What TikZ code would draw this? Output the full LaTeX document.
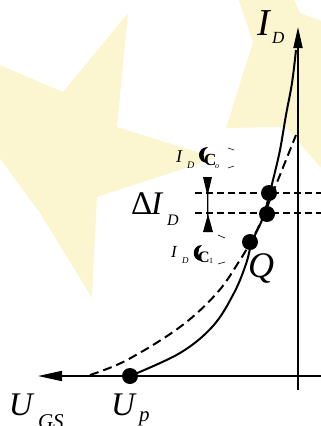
\documentclass[tikz,border=0pt]{standalone}
\usepackage{fontspec}
\setmainfont{Liberation Serif}
\usetikzlibrary{arrows.meta}
\definecolor{staryellow}{RGB}{252,246,208}
\begin{document}
\begin{tikzpicture}[x=1pt,y=-1pt,
  lbl/.style={inner sep=0pt,outer sep=0pt,anchor=base west},
  dotnode/.style={circle,fill=black,inner sep=0pt,minimum size=16pt},
  axis/.style={line width=1.8pt},
  guide/.style={line width=1.4pt,dash pattern=on 7pt off 4pt},
  solidcurve/.style={line width=2pt},
  dashcurve/.style={line width=2pt,dash pattern=on 9pt off 5pt},
  tickmark/.style={line width=0.6pt}]
\useasboundingbox (0,0) rectangle (321,426);
\clip (0,0) rectangle (321,426);
% background stars
\fill[staryellow] (128,13) -- (117,127) -- (216,158) -- (97,197) -- (92,298) -- (40,213) -- (-5,152) -- (-5,63) -- (63,92) -- cycle;
\fill[staryellow] (232,-20) -- (253,42) -- (226,128) -- (285,127) -- (325,172) -- (340,110) -- (345,30) -- (300,13) -- (285,-20) -- cycle;
% axes
\coordinate (hstart) at (321,376);
\coordinate (htip) at (38,376);
\coordinate (vstart) at (298,390);
\coordinate (vtip) at (298,27);
\draw[axis,-{Triangle[length=24pt,width=10pt]}] (hstart) -- (htip);
\draw[axis,-{Triangle[length=21pt,width=9pt]}] (vstart) -- (vtip);
% dashed guide lines
\coordinate (g1a) at (195,193); \coordinate (g1b) at (321,193);
\coordinate (g2a) at (195,213); \coordinate (g2b) at (321,213);
\draw[guide] (g1a) -- (g1b);
\draw[guide] (g2a) -- (g2b);
% curves
\draw[dashcurve] plot[smooth,tension=0.6] coordinates {(90,375) (127,360) (180,327) (217,293) (240,260) (250,243) (258,228) (266,210) (273,192) (280,175) (290,150) (296,135)};
\draw[solidcurve] plot[smooth,tension=0.6] coordinates {(130,376) (180,353) (213,326) (234,293) (246,264) (252,242) (262,220) (268,200) (273,180) (280,150) (286,115) (292,83) (296,50)};
% dots
\node[dotnode] (up) at (130,376) {};
\node[dotnode] (q) at (250,242) {};
\node[dotnode] (d2) at (267,214) {};
\node[dotnode] (d1) at (269,193) {};
% labels
\node[lbl] (idI) at (257,35) {\fontsize{38}{38}\selectfont\itshape I};
\node[lbl] (idD) at (272,43) {\fontsize{17}{17}\selectfont\itshape D};
\node[lbl] (ugsU) at (9,415) {\fontsize{33}{33}\selectfont\itshape U};
\node[lbl] (ugsGS) at (38,428) {\fontsize{21}{21}\selectfont\itshape GS};
\node[lbl] (upU) at (111,415) {\fontsize{33}{33}\selectfont\itshape U};
\node[lbl] (upp) at (139,421) {\fontsize{21}{21}\selectfont\itshape p};
\node[lbl] (qlbl) at (248,277) {\fontsize{36}{36}\selectfont\itshape Q};
\node[lbl] (dI) at (131,214) {\fontsize{33}{33}\selectfont Δ\kern-1pt\itshape I};
\node[lbl] (dD) at (167,225) {\fontsize{16}{16}\selectfont\itshape D};
% I_D(t_o) label
\node[lbl] (i0I) at (176,162) {\fontsize{18}{18}\selectfont\itshape I};
\node[lbl] (i0D) at (187,168) {\fontsize{10}{10}\selectfont\itshape D};
\fill (208,147) .. controls (196,147) and (196,163) .. (208,163) .. controls (202,160) and (202,150) .. (208,147) -- cycle;
\node[lbl] (i0C) at (204,165) {\fontsize{17}{17}\selectfont\bfseries C};
\node[lbl] (i0o) at (215,168) {\fontsize{8}{8}\selectfont\itshape o};
\draw[tickmark] (228,148) -- (234,150);
\draw[tickmark] (228,168) -- (234,166);
% I_D(t_1) label
\node[lbl] (i1I) at (171,257) {\fontsize{17}{17}\selectfont\itshape I};
\node[lbl] (i1D) at (182,263) {\fontsize{9}{9}\selectfont\itshape D};
\fill (202,245) .. controls (191,245) and (191,261) .. (202,261) .. controls (197,258) and (197,248) .. (202,245) -- cycle;
\node[lbl] (i1C) at (198,262) {\fontsize{16}{16}\selectfont\bfseries C};
\node[lbl] (i1one) at (209,263) {\fontsize{8}{8}\selectfont 1};
\draw[tickmark] (218,235) -- (225,238);
\draw[tickmark] (218,264) -- (225,262);
% Delta I_D double marker
\fill (203,177) -- (212,177) -- (207.5,196) -- cycle;
\fill (203,232) -- (213,232) -- (208,214) -- cycle;
\draw[line width=1.2pt] (207.5,177) -- (208,232);
\end{tikzpicture}
\end{document}
